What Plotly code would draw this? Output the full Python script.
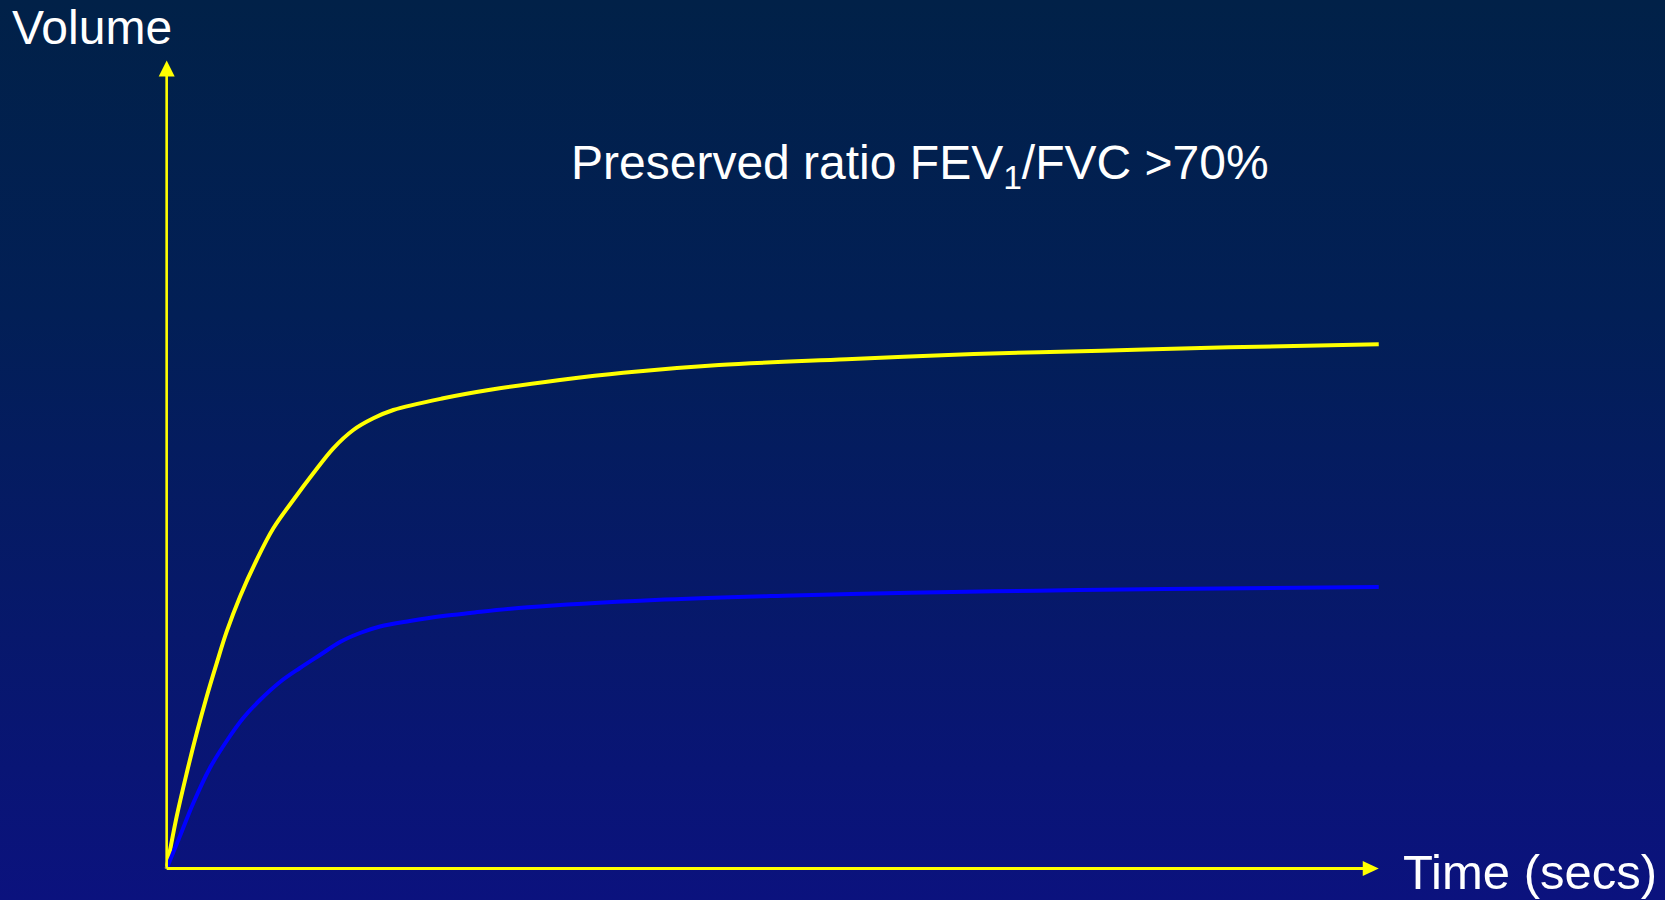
import base64
import plotly.graph_objects as go

# Spirometry volume-time curves (time in s, volume in L)
normal_time = [0.0, 0.0495, 0.099, 0.1485, 0.198, 0.2475, 0.297, 0.363, 0.4455, 0.528,
               0.627, 0.726, 0.825, 0.924, 1.023, 1.122, 1.369, 1.617, 1.947, 2.26,
               2.734, 3.365, 3.996, 4.628, 5.259, 6.0]
normal_volume = [0.0, 0.519, 0.953, 1.353, 1.719, 2.053, 2.369, 2.719, 3.086, 3.403,
                 3.686, 3.953, 4.203, 4.386, 4.503, 4.586, 4.703, 4.793, 4.886, 4.959,
                 5.036, 5.093, 5.146, 5.179, 5.213, 5.243]

restrictive_time = [0.0, 0.066, 0.132, 0.214, 0.297, 0.379, 0.462, 0.561, 0.660, 0.759,
                    0.858, 0.957, 1.056, 1.204, 1.368, 1.502, 1.787, 2.417, 3.050, 3.680,
                    4.312, 4.944, 6.0]
restrictive_volume = [0.0, 0.326, 0.656, 1.006, 1.276, 1.506, 1.686, 1.866, 2.006, 2.136,
                      2.266, 2.356, 2.421, 2.476, 2.526, 2.556, 2.613, 2.686, 2.729, 2.759,
                      2.779, 2.796, 2.816]

title_text = "Preserved ratio FEV<sub>1</sub>/FVC >70%"
y_label = "Volume"
x_label = "Time (secs)"

# Axis extents (arrow tips) in data units
x_axis_end = 6.0
y_axis_end = 8.08

W, H = 1665, 900
X_RANGE = [-0.825, 7.417]
Y_RANGE = [-0.314, 8.686]

YELLOW = "#FFFF00"
BLUE = "#0000FF"
FONT = "Liberation Sans, Arial, sans-serif"

# vertical background gradient as an inline SVG
svg = (
    '<svg xmlns="http://www.w3.org/2000/svg" width="10" height="100" '
    'preserveAspectRatio="none"><defs><linearGradient id="g" x1="0" y1="0" '
    'x2="0" y2="1"><stop offset="0" stop-color="#012148"/>'
    '<stop offset="0.35" stop-color="#021f56"/>'
    '<stop offset="1" stop-color="#0b127e"/></linearGradient></defs>'
    '<rect width="10" height="100" fill="url(#g)"/></svg>'
)
bg_uri = "data:image/svg+xml;base64," + base64.b64encode(svg.encode()).decode()

fig = go.Figure()

fig.add_trace(go.Scatter(
    x=normal_time, y=normal_volume, mode="lines",
    line=dict(color=YELLOW, width=4, shape="spline", smoothing=1.0),
    hoverinfo="skip", showlegend=False,
))
fig.add_trace(go.Scatter(
    x=restrictive_time, y=restrictive_volume, mode="lines",
    line=dict(color=BLUE, width=4, shape="spline", smoothing=1.0),
    hoverinfo="skip", showlegend=False,
))

head = 16  # arrowhead length in px
shapes = [
    # y axis line and arrowhead
    dict(type="line", x0=0, y0=0, x1=0, y1=y_axis_end - head / 100.0 + 0.02,
         line=dict(color=YELLOW, width=2.6), layer="above"),
    dict(type="path", xref="x", yref="y", xsizemode="pixel", ysizemode="pixel",
         xanchor=0, yanchor=y_axis_end,
         path=f"M0,0 L-8,-{head} L8,-{head} Z",
         fillcolor=YELLOW, line=dict(width=0), layer="above"),
    # x axis line and arrowhead
    dict(type="line", x0=0, y0=0, x1=x_axis_end - head / 202.0 + 0.02, y1=0,
         line=dict(color=YELLOW, width=3), layer="above"),
    dict(type="path", xref="x", yref="y", xsizemode="pixel", ysizemode="pixel",
         xanchor=x_axis_end, yanchor=0,
         path=f"M0,0 L-{head},7.5 L-{head},-7.5 Z",
         fillcolor=YELLOW, line=dict(width=0), layer="above"),
]

annotations = [
    dict(text=y_label, xref="paper", yref="paper", x=10 / W, y=1 - 27 / H,
         xanchor="left", yanchor="middle", showarrow=False,
         font=dict(family=FONT, size=48, color="white")),
    dict(text=title_text, xref="paper", yref="paper", x=920 / W, y=1 - 166 / H,
         xanchor="center", yanchor="middle", showarrow=False,
         font=dict(family=FONT, size=48, color="white")),
    dict(text=x_label, xref="paper", yref="paper", x=1401 / W, y=1 - 872 / H,
         xanchor="left", yanchor="middle", showarrow=False,
         font=dict(family=FONT, size=49, color="white")),
]

fig.update_layout(
    width=W, height=H,
    margin=dict(l=0, r=0, t=0, b=0),
    paper_bgcolor="#02184f",
    plot_bgcolor="rgba(0,0,0,0)",
    xaxis=dict(range=X_RANGE, visible=False, fixedrange=True),
    yaxis=dict(range=Y_RANGE, visible=False, fixedrange=True),
    shapes=shapes,
    annotations=annotations,
    images=[dict(source=bg_uri, xref="paper", yref="paper", x=0, y=1,
                 sizex=1, sizey=1, sizing="stretch", layer="below",
                 xanchor="left", yanchor="top")],
    showlegend=False,
)

fig.write_html("out.html", config={"displayModeBar": False})
